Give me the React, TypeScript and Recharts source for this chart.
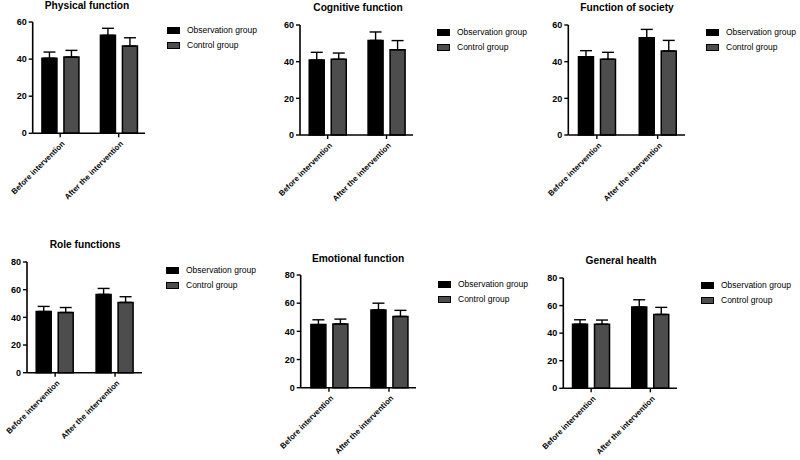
import React from "react"
import { BarChart, Bar, XAxis, YAxis, ErrorBar } from "recharts"

const categories = ["Before intervention", "After the intervention"]
const seriesNames = ["Observation group", "Control group"]

// means and SDs, per domain
const physicalObs = [40.5, 52.8]
const physicalObsSd = [3.3, 3.8]
const physicalCtrl = [41.1, 47.0]
const physicalCtrlSd = [3.6, 4.5]

const cognitiveObs = [40.9, 51.6]
const cognitiveObsSd = [4.2, 4.6]
const cognitiveCtrl = [41.3, 46.5]
const cognitiveCtrlSd = [3.4, 5.0]

const societyObs = [42.7, 53.1]
const societyObsSd = [3.3, 4.5]
const societyCtrl = [41.3, 45.8]
const societyCtrlSd = [3.8, 5.8]

const roleObs = [44.2, 56.6]
const roleObsSd = [3.7, 4.3]
const roleCtrl = [43.5, 50.8]
const roleCtrlSd = [3.6, 4.1]

const emotionalObs = [44.8, 55.2]
const emotionalObsSd = [3.4, 4.8]
const emotionalCtrl = [45.3, 50.6]
const emotionalCtrlSd = [3.4, 4.3]

const generalObs = [46.5, 58.9]
const generalObsSd = [3.2, 5.3]
const generalCtrl = [46.5, 53.6]
const generalCtrlSd = [3.0, 5.1]

const ticks60 = [0, 20, 40, 60]
const ticks80 = [0, 20, 40, 60, 80]

const FONT = "'Liberation Sans', Arial, Helvetica, sans-serif"
const OBS_FILL = "#000000"
const CTRL_FILL = "#4d4d4d"

type Geo = { x: number; y: number; w: number; h: number }
type Plot = { l: number; t: number; r: number; b: number }

type PanelCfg = {
  title: string
  titleX: number
  titleY: number
  box: Geo
  plot: Plot
  legendX: number
  legendY: number
  yMax: number
  yTicks: number[]
  obs: number[]
  obsSd: number[]
  ctrl: number[]
  ctrlSd: number[]
}

const panels: PanelCfg[] = [
  {
    title: "Physical function", titleX: 87, titleY: 6,
    box: { x: 0, y: 0, w: 265, h: 230 }, plot: { l: 32.7, t: 22, r: 145, b: 133.3 },
    legendX: 167, legendY: 30, yMax: 60, yTicks: ticks60,
    obs: physicalObs, obsSd: physicalObsSd, ctrl: physicalCtrl, ctrlSd: physicalCtrlSd,
  },
  {
    title: "Cognitive function", titleX: 358, titleY: 8,
    box: { x: 265, y: 0, w: 265, h: 230 }, plot: { l: 300, t: 25, r: 413, b: 135 },
    legendX: 437, legendY: 32, yMax: 60, yTicks: ticks60,
    obs: cognitiveObs, obsSd: cognitiveObsSd, ctrl: cognitiveCtrl, ctrlSd: cognitiveCtrlSd,
  },
  {
    title: "Function of society", titleX: 627, titleY: 8,
    box: { x: 530, y: 0, w: 270, h: 230 }, plot: { l: 568.3, t: 25, r: 685, b: 135 },
    legendX: 706, legendY: 32, yMax: 60, yTicks: ticks60,
    obs: societyObs, obsSd: societyObsSd, ctrl: societyCtrl, ctrlSd: societyCtrlSd,
  },
  {
    title: "Role functions", titleX: 85, titleY: 245,
    box: { x: 0, y: 230, w: 265, h: 230 }, plot: { l: 27, t: 262, r: 142, b: 372.7 },
    legendX: 166, legendY: 270, yMax: 80, yTicks: ticks80,
    obs: roleObs, obsSd: roleObsSd, ctrl: roleCtrl, ctrlSd: roleCtrlSd,
  },
  {
    title: "Emotional function", titleX: 358, titleY: 259,
    box: { x: 265, y: 230, w: 265, h: 230 }, plot: { l: 300.7, t: 275, r: 416, b: 387.7 },
    legendX: 438, legendY: 284, yMax: 80, yTicks: ticks80,
    obs: emotionalObs, obsSd: emotionalObsSd, ctrl: emotionalCtrl, ctrlSd: emotionalCtrlSd,
  },
  {
    title: "General health", titleX: 621, titleY: 261,
    box: { x: 530, y: 230, w: 270, h: 230 }, plot: { l: 563.3, t: 278, r: 677, b: 388.3 },
    legendX: 701, legendY: 285, yMax: 80, yTicks: ticks80,
    obs: generalObs, obsSd: generalObsSd, ctrl: generalCtrl, ctrlSd: generalCtrlSd,
  },
]

const Y_W = 24
const X_H = 68

const XTick = (props: any) => {
  const { x, y, payload } = props
  const px = x + 3
  const py = y + 3
  return (
    <text
      x={px}
      y={py}
      transform={`rotate(-45 ${px} ${py})`}
      textAnchor="end"
      dy="0.35em"
      fontSize={7.8}
      fontWeight="bold"
      fontFamily={FONT}
      fill="#000"
    >
      {categories[payload.value]}
    </text>
  )
}

function Panel({ cfg }: { cfg: PanelCfg }) {
  const { box, plot } = cfg
  const rows = categories.map((c, i) => ({
    x: i,
    name: c,
    obs: cfg.obs[i],
    obsErr: [0, cfg.obsSd[i]],
    ctrl: cfg.ctrl[i],
    ctrlErr: [0, cfg.ctrlSd[i]],
  }))
  const margin = {
    top: plot.t - box.y,
    left: plot.l - box.x - Y_W,
    right: box.x + box.w - plot.r,
    bottom: box.y + box.h - plot.b - X_H,
  }
  return (
    <div style={{ position: "absolute", left: box.x, top: box.y, width: box.w, height: box.h, overflow: "hidden" }}>
      <BarChart width={box.w} height={box.h} data={rows} margin={margin} barGap={7}>
        <XAxis
          type="number"
          dataKey="x"
          domain={[-0.47, 1.45]}
          ticks={[0, 1]}
          height={X_H}
          tick={<XTick />}
          tickSize={4}
          axisLine={{ stroke: "#000", strokeWidth: 1.6 }}
          tickLine={{ stroke: "#000", strokeWidth: 1.4 }}
        />
        <YAxis
          type="number"
          domain={[0, cfg.yMax]}
          ticks={cfg.yTicks}
          width={Y_W}
          tickSize={4}
          tickMargin={2}
          axisLine={{ stroke: "#000", strokeWidth: 1.6 }}
          tickLine={{ stroke: "#000", strokeWidth: 1.4 }}
          tick={{ fontSize: 9, fontWeight: "bold", fill: "#000", fontFamily: FONT }}
        />
        <Bar dataKey="obs" name={seriesNames[0]} fill={OBS_FILL} stroke="#000" strokeWidth={1.5} barSize={15} isAnimationActive={false}>
          <ErrorBar dataKey="obsErr" direction="y" width={6} stroke="#000" strokeWidth={1.4} />
        </Bar>
        <Bar dataKey="ctrl" name={seriesNames[1]} fill={CTRL_FILL} stroke="#000" strokeWidth={1.5} barSize={15} isAnimationActive={false}>
          <ErrorBar dataKey="ctrlErr" direction="y" width={6} stroke="#000" strokeWidth={1.4} />
        </Bar>
      </BarChart>
      <div
        style={{
          position: "absolute",
          left: cfg.titleX - box.x - 80,
          width: 160,
          top: cfg.titleY - box.y - 6,
          textAlign: "center",
          fontFamily: FONT,
          fontWeight: "bold",
          fontSize: 10.2,
          lineHeight: "12px",
          color: "#000",
          whiteSpace: "nowrap",
        }}
      >
        {cfg.title}
      </div>
      {seriesNames.map((s, i) => (
        <div
          key={s}
          style={{
            position: "absolute",
            left: cfg.legendX - box.x,
            top: cfg.legendY - box.y + i * 15 - 6,
            height: 12,
            display: "flex",
            alignItems: "center",
            fontFamily: FONT,
            fontSize: 8.5,
            color: "#000",
            whiteSpace: "nowrap",
          }}
        >
          <span
            style={{
              display: "inline-block",
              width: 11,
              height: 5,
              background: i === 0 ? OBS_FILL : CTRL_FILL,
              border: "1px solid #000",
              marginRight: 7,
            }}
          />
          {s}
        </div>
      ))}
    </div>
  )
}

export default function App() {
  return (
    <div style={{ position: "absolute", left: 0, top: 0, width: 800, height: 460, background: "#fff", overflow: "hidden" }}>
      {panels.map((p) => (
        <Panel key={p.title} cfg={p} />
      ))}
    </div>
  )
}
